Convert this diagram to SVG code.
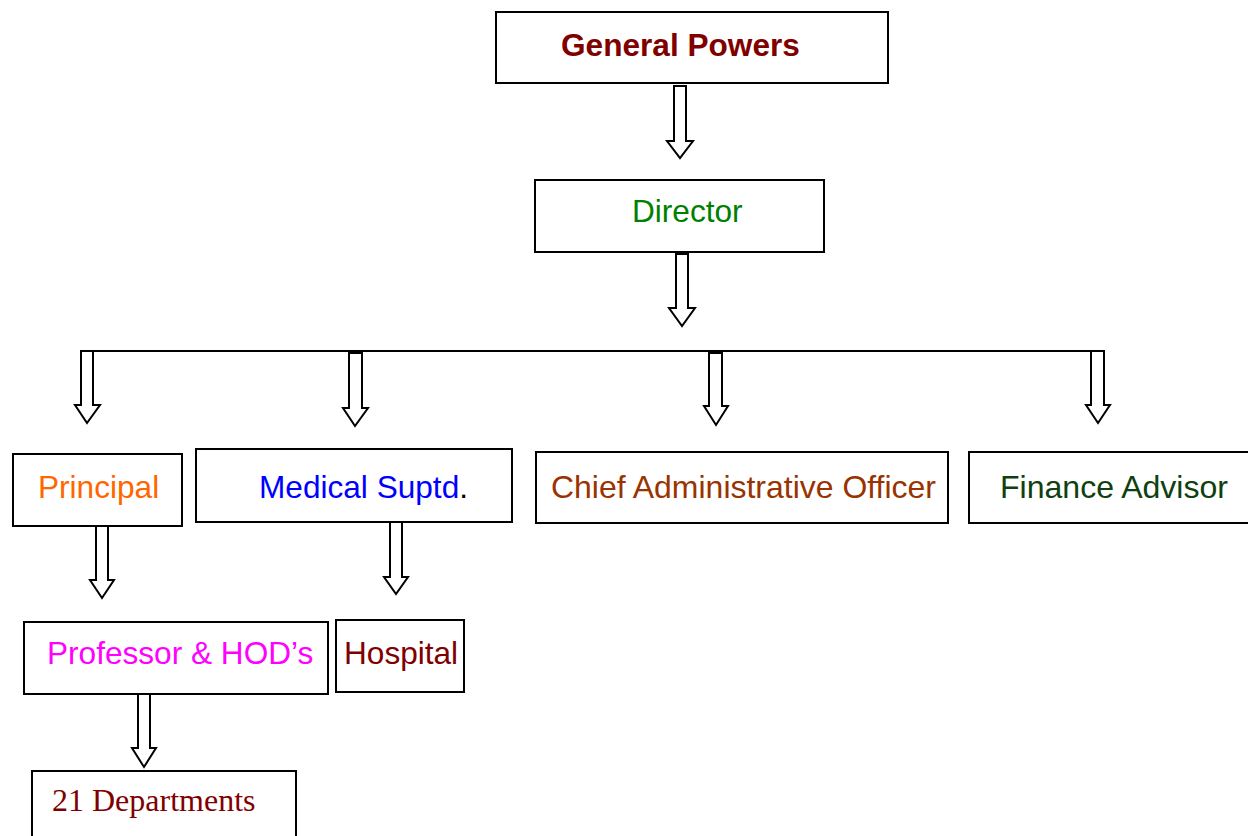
<svg xmlns="http://www.w3.org/2000/svg" width="1248" height="836" viewBox="0 0 1248 836">
<style>
.box{fill:#fff;stroke:#000;stroke-width:2}
.arr{fill:#fff;stroke:#000;stroke-width:2;stroke-linejoin:miter}
.t{font-family:"Liberation Sans",Arial,sans-serif;font-size:31.6px}
.s{font-family:"Liberation Serif","Times New Roman",serif;font-size:32px}
</style>
<rect width="1248" height="836" fill="#fff"/>
<g id="connectors">
<line x1="80" y1="351" x2="1090" y2="351" stroke="#000" stroke-width="2"/>
<polygon class="arr" points="674,86 686,86 686,141 693,141 680,158 667,141 674,141"/>
<polygon class="arr" points="676,254 688,254 688,308 695,308 682,326 669,308 676,308"/>
<polygon class="arr" points="81,351 93,351 93,405 100,405 87,423 75,405 81,405"/>
<polygon class="arr" points="349,353 362,353 362,408 368,408 355,426 343,408 349,408"/>
<polygon class="arr" points="709,353 722,353 722,406 728,406 716,425 704,406 709,406"/>
<polygon class="arr" points="1091,351 1104,351 1104,405 1110,405 1098,423 1086,405 1091,405"/>
<polygon class="arr" points="96,526 108,526 108,580 114,580 102,598 90,580 96,580"/>
<polygon class="arr" points="390,522 402,522 402,577 408,577 396,594 384,577 390,577"/>
<polygon class="arr" points="138,694 150,694 150,748 156,748 144,767 132,748 138,748"/>
</g>
<g id="general-powers">
<rect class="box" x="496" y="12" width="392" height="71"/>
<text class="t" x="561" y="56" font-weight="bold" fill="#800000">General Powers</text>
</g>
<g id="director">
<rect class="box" x="535" y="180" width="289" height="72"/>
<text class="t" x="632" y="222" fill="#008000">Director</text>
</g>
<g id="principal">
<rect class="box" x="13" y="454" width="169" height="72"/>
<text class="t" x="38" y="498" fill="#FF6600">Principal</text>
</g>
<g id="medical-suptd">
<rect class="box" x="196" y="449" width="316" height="73"/>
<text class="t" x="259" y="498" fill="#0000FF">Medical Suptd<tspan fill="#000">.</tspan></text>
</g>
<g id="cao">
<rect class="box" x="536" y="452" width="412" height="71"/>
<text class="t" x="551" y="498" fill="#993300" textLength="385" lengthAdjust="spacingAndGlyphs">Chief Administrative Officer</text>
</g>
<g id="finance-advisor">
<rect class="box" x="969" y="452" width="290" height="71"/>
<text class="t" x="1000" y="498" fill="#0F400F" textLength="228" lengthAdjust="spacingAndGlyphs">Finance Advisor</text>
</g>
<g id="professor">
<rect class="box" x="24" y="622" width="304" height="72"/>
<text class="t" x="47" y="664" fill="#FF00FF">Professor &amp; HOD’s</text>
</g>
<g id="hospital">
<rect class="box" x="336" y="620" width="128" height="72"/>
<text class="t" x="344" y="664" fill="#800000">Hospital</text>
</g>
<g id="departments">
<rect class="box" x="32" y="771" width="264" height="80"/>
<text class="s" x="52" y="811" fill="#800000">21 Departments</text>
</g>
</svg>
